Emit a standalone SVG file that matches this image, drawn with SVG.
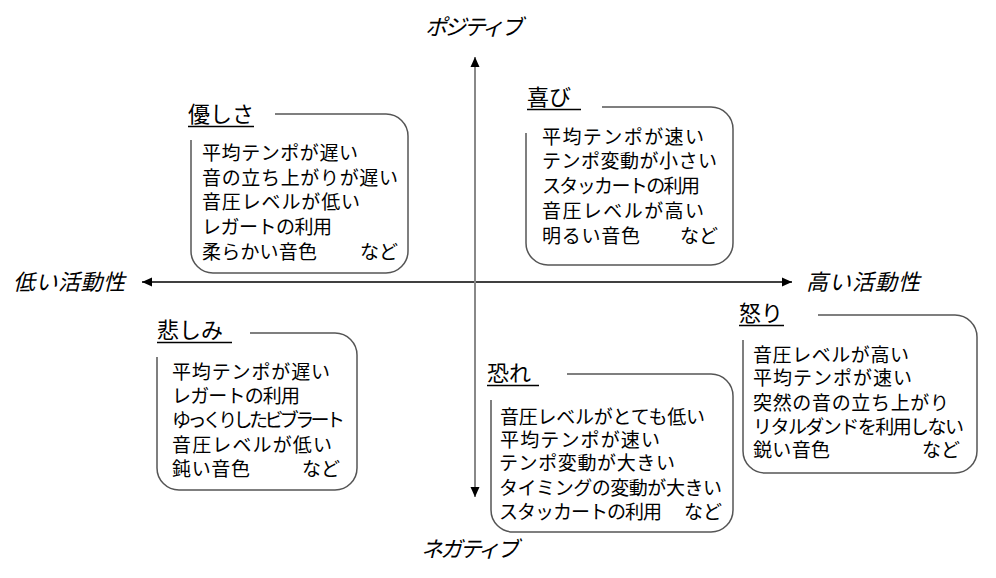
<svg xmlns="http://www.w3.org/2000/svg" width="996" height="578" viewBox="0 0 996 578">
<style>
  .t { font-family: "Noto Sans CJK JP", "Noto Sans", sans-serif; font-size: 19px; fill: #000; }
  .h { font-family: "Noto Sans CJK JP", "Noto Sans", sans-serif; font-size: 22px; fill: #000; }
  .ax { font-family: "Noto Sans CJK JP", "Noto Sans", sans-serif; font-size: 22px; font-style: italic; fill: #000; }
  .box { fill: none; stroke: #555; stroke-width: 1.5; }
  .ul { stroke: #000; stroke-width: 1.5; }
  .e { text-anchor: end; }
</style>
<defs>
  <marker id="ah" viewBox="0 0 10 10" refX="10" refY="5" markerWidth="10" markerHeight="10" markerUnits="userSpaceOnUse" orient="auto-start-reverse">
    <path d="M0,0.5 L10,5 L0,9.5 Z" fill="#000"/>
  </marker>
</defs>
<rect width="996" height="578" fill="#fff"/>
<g id="connectors">
  <line x1="142" y1="282" x2="792" y2="282" stroke="#000" stroke-width="1.5" marker-start="url(#ah)" marker-end="url(#ah)"/>
  <line x1="475" y1="57" x2="475" y2="497" stroke="#888" stroke-width="2" marker-start="url(#ah)" marker-end="url(#ah)"/>
</g>
<g id="axis-labels">
  <text class="ax" x="425" y="35" textLength="98" lengthAdjust="spacing">ポジティブ</text>
  <text class="ax" x="421" y="557" textLength="98" lengthAdjust="spacing">ネガティブ</text>
  <text class="ax" x="13" y="290" textLength="112" lengthAdjust="spacing">低い活動性</text>
  <text class="ax" x="806" y="290" textLength="114" lengthAdjust="spacing">高い活動性</text>
</g>
<g id="yasashisa">
  <path class="box" d="M275,114 H386 A22,22 0 0 1 408,136 V251 A22,22 0 0 1 386,273 H213 A22,22 0 0 1 191,251 V140"/>
  <text class="h" x="188" y="122">優しさ</text>
  <line class="ul" x1="188" y1="126.5" x2="254" y2="126.5"/>
  <text class="t" x="202" y="160" textLength="156" lengthAdjust="spacing">平均テンポが遅い</text>
  <text class="t" x="202" y="185" textLength="196" lengthAdjust="spacing">音の立ち上がりが遅い</text>
  <text class="t" x="202" y="209" textLength="158" lengthAdjust="spacing">音圧レベルが低い</text>
  <text class="t" x="202" y="234" textLength="130" lengthAdjust="spacing">レガートの利用</text>
  <text class="t" x="202" y="259" textLength="115" lengthAdjust="spacing">柔らかい音色</text>
  <text class="t e" x="398" y="259">など</text>
</g>
<g id="yorokobi">
  <path class="box" d="M602,107 H711 A22,22 0 0 1 733,129 V243 A22,22 0 0 1 711,265 H548 A22,22 0 0 1 526,243 V133"/>
  <text class="h" x="527" y="105">喜び</text>
  <line class="ul" x1="527" y1="109.5" x2="581" y2="109.5"/>
  <text class="t" x="542" y="144" textLength="162" lengthAdjust="spacing">平均テンポが速い</text>
  <text class="t" x="542" y="168" textLength="175" lengthAdjust="spacing">テンポ変動が小さい</text>
  <text class="t" x="542" y="193" textLength="158" lengthAdjust="spacing">スタッカートの利用</text>
  <text class="t" x="542" y="218" textLength="162" lengthAdjust="spacing">音圧レベルが高い</text>
  <text class="t" x="542" y="243" textLength="98" lengthAdjust="spacing">明るい音色</text>
  <text class="t e" x="718" y="243">など</text>
</g>
<g id="ikari">
  <path class="box" d="M818,315 H955 A22,22 0 0 1 977,337 V451 A22,22 0 0 1 955,473 H765 A22,22 0 0 1 743,451 V340"/>
  <text class="h" x="739" y="321">怒り</text>
  <line class="ul" x1="739" y1="325.5" x2="784" y2="325.5"/>
  <text class="t" x="753" y="362" textLength="156" lengthAdjust="spacing">音圧レベルが高い</text>
  <text class="t" x="753" y="385" textLength="159" lengthAdjust="spacing">平均テンポが速い</text>
  <text class="t" x="753" y="410" textLength="196" lengthAdjust="spacing">突然の音の立ち上がり</text>
  <text class="t" x="753" y="434" textLength="211" lengthAdjust="spacing">リタルダンドを利用しない</text>
  <text class="t" x="753" y="457" textLength="77" lengthAdjust="spacing">鋭い音色</text>
  <text class="t e" x="960" y="457">など</text>
</g>
<g id="kanashimi">
  <path class="box" d="M250,333 H335 A22,22 0 0 1 357,355 V468 A22,22 0 0 1 335,490 H179 A22,22 0 0 1 157,468 V357"/>
  <text class="h" x="157" y="338">悲しみ</text>
  <line class="ul" x1="157" y1="342.5" x2="232" y2="342.5"/>
  <text class="t" x="172" y="379" textLength="158" lengthAdjust="spacing">平均テンポが遅い</text>
  <text class="t" x="172" y="403" textLength="128" lengthAdjust="spacing">レガートの利用</text>
  <text class="t" x="172" y="427" textLength="173" lengthAdjust="spacing">ゆっくりしたビブラート</text>
  <text class="t" x="172" y="452" textLength="160" lengthAdjust="spacing">音圧レベルが低い</text>
  <text class="t" x="172" y="476" textLength="78" lengthAdjust="spacing">鈍い音色</text>
  <text class="t e" x="340" y="476">など</text>
</g>
<g id="osore">
  <path class="box" d="M567,374 H711 A22,22 0 0 1 733,396 V510 A22,22 0 0 1 711,532 H513 A22,22 0 0 1 491,510 V400"/>
  <text class="h" x="487" y="381">恐れ</text>
  <line class="ul" x1="487" y1="385.5" x2="539" y2="385.5"/>
  <text class="t" x="500" y="424" textLength="205" lengthAdjust="spacing">音圧レベルがとても低い</text>
  <text class="t" x="500" y="447" textLength="160" lengthAdjust="spacing">平均テンポが速い</text>
  <text class="t" x="499" y="470" textLength="176" lengthAdjust="spacing">テンポ変動が大きい</text>
  <text class="t" x="499" y="495" textLength="223" lengthAdjust="spacing">タイミングの変動が大きい</text>
  <text class="t" x="499" y="519" textLength="163" lengthAdjust="spacing">スタッカートの利用</text>
  <text class="t e" x="722" y="519">など</text>
</g>
</svg>
